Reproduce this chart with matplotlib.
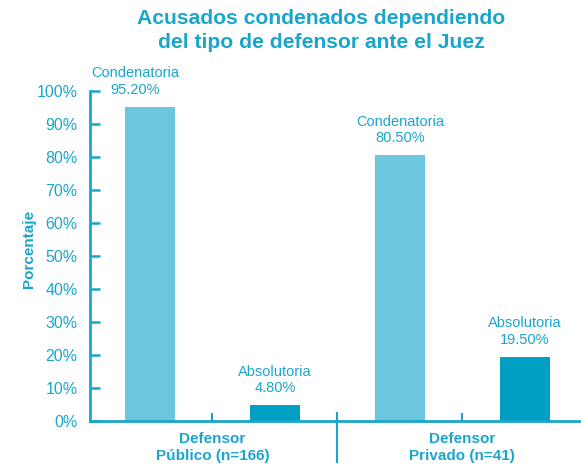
import matplotlib
matplotlib.use('Agg')
import matplotlib.pyplot as plt

# 数据
grupos = ["Defensor\nPúblico (n=166)", "Defensor\nPrivado (n=41)"]
tipos = ["Condenatoria", "Absolutoria"]
valores = [95.2, 4.8, 80.5, 19.5]
etiquetas = ["95.20%", "4.80%", "80.50%", "19.50%"]
yticks = [0, 10, 20, 30, 40, 50, 60, 70, 80, 90, 100]

plt.rcParams['font.family'] = ['Liberation Sans', 'DejaVu Sans']

texto = '#1aa6cc'
claro = '#6cc6de'
oscuro = '#00a0c4'

fig = plt.figure(figsize=(5.81, 4.67), dpi=100)
ax = fig.add_axes([90 / 581, 1 - 421 / 467, 1 - 90 / 581, 330 / 467])

pos = [0, 1, 2, 3]
colores = [claro, oscuro, claro, oscuro]
ax.bar(pos, valores, width=0.4, color=colores, zorder=2)

ax.set_xlim(-0.48, 3.45)
ax.set_ylim(0, 100)

# 标注
offsets = [-0.12, 0, 0, 0]
for i, (v, lab) in enumerate(zip(valores, etiquetas)):
    ax.text(pos[i] + offsets[i], v + 3, tipos[i % 2] + "\n" + lab,
            ha='center', va='bottom', color=texto, fontsize=10.5,
            linespacing=1.25, clip_on=False)

# 坐标轴
for s in ['top', 'right']:
    ax.spines[s].set_visible(False)
for s in ['left', 'bottom']:
    ax.spines[s].set_color(texto)
    ax.spines[s].set_linewidth(2)

ax.set_yticks(yticks)
ax.set_yticklabels([f"{t}%" for t in yticks])
ax.tick_params(axis='y', direction='in', length=7, width=1.8, color=texto,
               labelcolor=texto, labelsize=11.5, pad=9)

ax.set_xticks([0.5, 2.5])
ax.set_xticklabels(grupos, fontweight='bold')
ax.tick_params(axis='x', direction='in', length=6, width=1.5, color=texto,
               labelcolor=texto, labelsize=11, pad=8)
for t in ax.get_xticklabels():
    t.set_linespacing(1.3)

# 分隔线
ax.axvline(1.5, ymin=-41 / 330, ymax=8 / 330, color=texto, lw=1.5, clip_on=False)

ax.set_ylabel("Porcentaje", color=texto, fontweight='bold', fontsize=11)
ax.yaxis.set_label_coords(-0.11, 0.52)

fig.text(0.553, 0.98, "Acusados condenados dependiendo\ndel tipo de defensor ante el Juez",
         ha='center', va='top', color=texto, fontsize=15.2, fontweight='bold',
         linespacing=1.3)

plt.savefig("out.png", dpi=100)
plt.close()
